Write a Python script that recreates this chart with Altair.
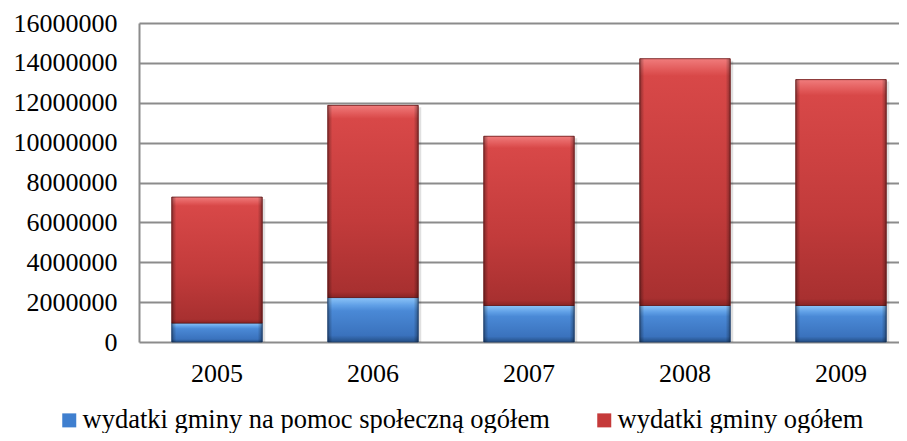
import altair as alt
import pandas as pd

years = ["2005", "2006", "2007", "2008", "2009"]
series_names = ["wydatki gminy na pomoc społeczną ogółem", "wydatki gminy ogółem"]
# segment heights as stacked in the chart
pomoc_spoleczna = [950000, 2230000, 1830000, 1830000, 1830000]
gmina_ogolem = [6320000, 9640000, 8490000, 12380000, 11330000]
y_ticks = [0, 2000000, 4000000, 6000000, 8000000, 10000000, 12000000, 14000000, 16000000]

rows = []
for i, y in enumerate(years):
    rows.append({"year": y, "series": series_names[0], "value": pomoc_spoleczna[i], "ord": 0})
    rows.append({"year": y, "series": series_names[1], "value": gmina_ogolem[i], "ord": 1})
df = pd.DataFrame(rows)

FONT = "Liberation Serif"

base = alt.Chart(df).transform_stack(
    stack="value", groupby=["year"], as_=["v0", "v1"], sort=[alt.SortField("ord", order="ascending")]
)

xenc = alt.X("year:N", title=None, sort=years,
             scale=alt.Scale(range=[0, 780], paddingInner=0.42, paddingOuter=0.21),
             axis=alt.Axis(labelAngle=0, ticks=False, labelPadding=18, domain=False))
yaxis = alt.Axis(values=y_ticks, format="d", ticks=False, labelPadding=22,
                 labelOverlap=False, domainColor="#8c8c8c", domainWidth=2)
yscale = alt.Scale(domain=[0, 16000000], nice=False)

def yenc(field):
    return alt.Y(field, title=None, scale=yscale, axis=yaxis)

shadow = base.transform_filter(alt.datum.ord == 1).mark_bar(
    color="#000000", opacity=0.12, xOffset=3, yOffset=2
).encode(x=xenc, y=yenc("v1:Q"), y2=alt.value(319))

legend_layer = base.mark_bar().encode(
    x=xenc, y=yenc("v0:Q"), y2="v1:Q",
    color=alt.Color("series:N",
                    scale=alt.Scale(domain=series_names, range=["#3f7fcf", "#c53a3a"]),
                    legend=alt.Legend(title=None, orient="none", direction="horizontal",
                                      legendX=-83, legendY=384, symbolType="square",
                                      symbolSize=196, symbolStrokeWidth=0, labelOffset=0,
                                      columnPadding=41, padding=0, labelLimit=0,
                                      labelFont=FONT, labelFontSize=26.5, labelColor="#000000")),
)

red_grad = alt.Gradient(
    gradient="linear", x1=0, y1=0, x2=0, y2=1,
    stops=[alt.GradientStop(offset=0, color="#f07c7c"),
           alt.GradientStop(offset=0.05, color="#e05656"),
           alt.GradientStop(offset=0.07, color="#d84848"),
           alt.GradientStop(offset=0.6, color="#c23b3b"),
           alt.GradientStop(offset=0.97, color="#a83030"),
           alt.GradientStop(offset=1, color="#8a2424")])
blue_grad = alt.Gradient(
    gradient="linear", x1=0, y1=0, x2=0, y2=1,
    stops=[alt.GradientStop(offset=0, color="#8cc4f8"),
           alt.GradientStop(offset=0.18, color="#5f9fe6"),
           alt.GradientStop(offset=0.3, color="#4a89d6"),
           alt.GradientStop(offset=0.85, color="#3a72bd"),
           alt.GradientStop(offset=1, color="#244f86")])
edge_grad = alt.Gradient(
    gradient="linear", x1=0, y1=0, x2=1, y2=0,
    stops=[alt.GradientStop(offset=0, color="rgba(0,0,0,0.35)"),
           alt.GradientStop(offset=0.05, color="rgba(0,0,0,0)"),
           alt.GradientStop(offset=0.95, color="rgba(0,0,0,0)"),
           alt.GradientStop(offset=1, color="rgba(0,0,0,0.35)")])

blue_bars = base.transform_filter(alt.datum.ord == 0).mark_bar(
    color=blue_grad, stroke="#1f3f6a", strokeWidth=0.8
).encode(x=xenc, y=yenc("v0:Q"), y2="v1:Q")

red_bars = base.transform_filter(alt.datum.ord == 1).mark_bar(
    color=red_grad, stroke="#6a1c1c", strokeWidth=0.8
).encode(x=xenc, y=yenc("v0:Q"), y2="v1:Q")

edges = base.mark_bar(color=edge_grad).encode(x=xenc, y=yenc("v0:Q"), y2="v1:Q")

chart = alt.layer(legend_layer, shadow, blue_bars, red_bars, edges).properties(
    width=760, height=319,
    autosize=alt.AutoSizeParams(type="none"),
    padding={"left": 131, "top": 15, "right": 0, "bottom": 91},
).configure_view(stroke=None).configure_axis(
    labelFont=FONT, labelFontSize=26, labelColor="#000000",
    gridColor="#8c8c8c", gridWidth=2,
).configure_axisX(grid=False).configure_axisY(grid=True, labelOverlap=False)

chart.save("out.html", embed_options={"renderer": "svg", "actions": False})
